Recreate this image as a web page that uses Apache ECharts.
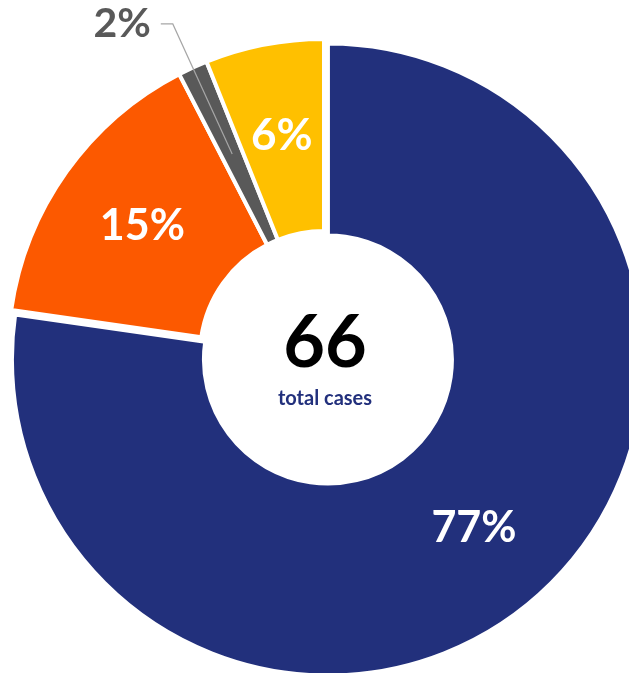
<!DOCTYPE html>
<html>
<head>
<meta charset="utf-8">
<script src="https://cdn.jsdelivr.net/npm/echarts@6/dist/echarts.min.js"></script>
<style>
html,body{margin:0;padding:0;background:#fff;}
#chart{width:629px;height:673px;}
</style>
</head>
<body>
<div id="chart"></div>
<script>
const categories = ['Category A', 'Category B', 'Category C', 'Category D'];
const values = [51, 10, 1, 4];
const colors = ['#22307C', '#FC5900', '#595959', '#FFC000'];
const labelSizes = [43, 43, 41, 44];
const totalText = '66';
const subText = 'total cases';

const FONT = "'Century Gothic', Lato, 'DejaVu Sans', sans-serif";
const pct = p => Math.round(p.percent) + '%';
const CENTER = [324, 355];

const chart = echarts.init(document.getElementById('chart'), null, {renderer: 'canvas'});
chart.setOption({
  animation: false,
  backgroundColor: '#ffffff',
  series: [
    {
      type: 'pie',
      z: 2,
      center: CENTER,
      radius: [124, 316],
      startAngle: 90,
      clockwise: true,
      selectedMode: 'single',
      selectedOffset: 6,
      avoidLabelOverlap: false,
      emphasis: {scale: false},
      itemStyle: {borderColor: '#ffffff', borderWidth: 4},
      label: {
        show: true, position: 'inside', color: '#ffffff',
        fontFamily: FONT, fontWeight: 'bold', formatter: pct
      },
      labelLine: {show: false},
      data: values.map((v, i) => ({
        value: v,
        name: categories[i],
        selected: i === 0,
        itemStyle: {color: colors[i]},
        label: i === 2 ? {show: false} : {show: true, fontSize: labelSizes[i]}
      }))
    },
    {
      type: 'pie',
      z: 5,
      center: CENTER,
      radius: [0, 221],
      startAngle: 90,
      clockwise: true,
      silent: true,
      avoidLabelOverlap: false,
      itemStyle: {color: 'rgba(0,0,0,0)', borderWidth: 0},
      label: {show: false},
      labelLine: {show: false},
      data: values.map((v, i) => ({
        value: v,
        name: categories[i],
        label: i === 2 ? {
          show: true, position: 'outside', formatter: pct,
          color: '#595959', fontFamily: FONT, fontWeight: 'bold',
          fontSize: labelSizes[i], distanceToLabelLine: 10
        } : {show: false},
        labelLine: i === 2 ? {
          show: true, length: 143, length2: 12,
          lineStyle: {color: '#a6a6a6', width: 1.2}
        } : {show: false}
      }))
    }
  ],
  graphic: [
    {
      type: 'text', z: 100,
      style: {
        text: totalText, x: 325, y: 344, align: 'center', verticalAlign: 'middle',
        fontFamily: FONT, fontWeight: 'bold', fontSize: 72, fill: '#000000'
      }
    },
    {
      type: 'text', z: 100,
      style: {
        text: subText, x: 325, y: 399, align: 'center', verticalAlign: 'middle',
        fontFamily: FONT, fontWeight: 'bold', fontSize: 20, fill: '#22307C'
      }
    }
  ]
});
</script>
</body>
</html>
